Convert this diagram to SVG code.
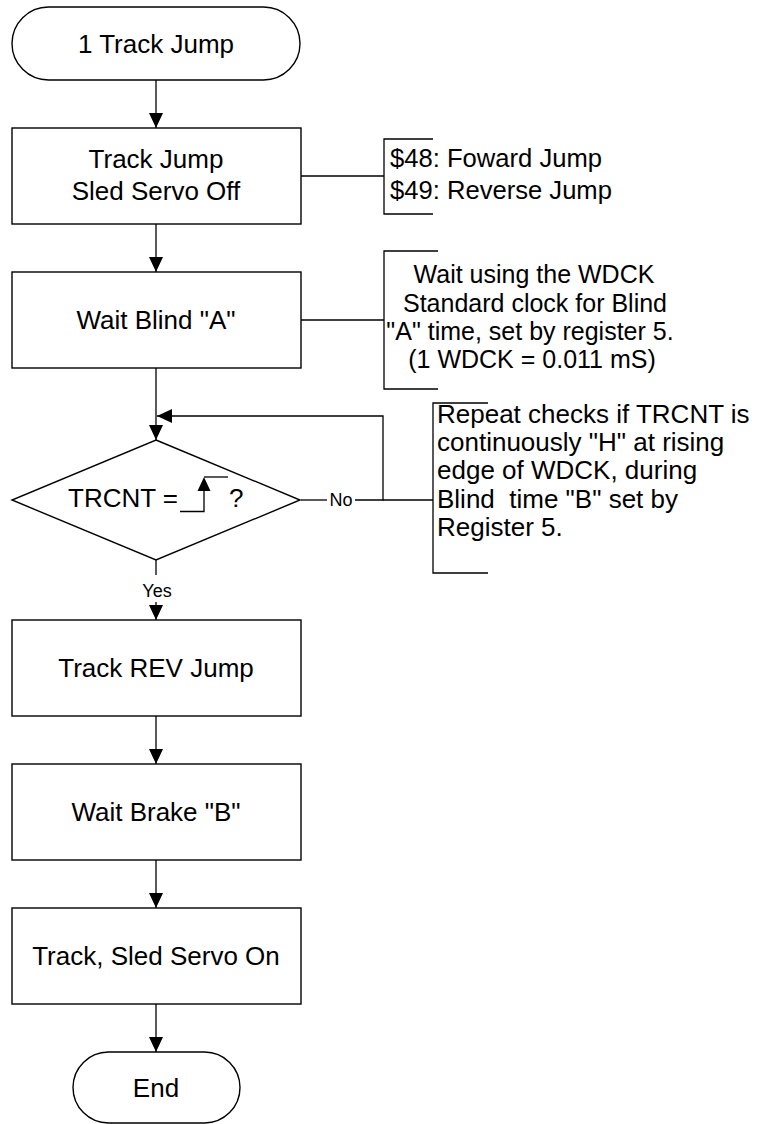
<svg xmlns="http://www.w3.org/2000/svg" width="760" height="1124" viewBox="0 0 760 1124">
<style>
.shape{fill:#fff;stroke:#000;stroke-width:1.4}
.ln{fill:none;stroke:#000;stroke-width:1.3}
.t{font-family:"Liberation Sans",Arial,sans-serif;font-size:26px;fill:#000;text-anchor:middle}
.tl{font-family:"Liberation Sans",Arial,sans-serif;font-size:26px;fill:#000;text-anchor:start}
.a{font-family:"Liberation Sans",Arial,sans-serif;font-size:25px;fill:#000}
.ac{font-family:"Liberation Sans",Arial,sans-serif;font-size:25px;fill:#000;text-anchor:middle}
.s{font-family:"Liberation Sans",Arial,sans-serif;font-size:18px;fill:#000;text-anchor:middle}
</style>
<defs>
<marker id="arr" markerUnits="userSpaceOnUse" markerWidth="16" markerHeight="16" refX="15" refY="7" orient="auto">
<path d="M0,0 L15,7 L0,14 z" fill="#000"/>
</marker>
</defs>
<rect width="760" height="1124" fill="#fff"/>
<g id="connectors">
<line class="ln" x1="156" y1="80" x2="156" y2="128" marker-end="url(#arr)"/>
<line class="ln" x1="156" y1="224" x2="156" y2="272" marker-end="url(#arr)"/>
<line class="ln" x1="156" y1="368" x2="156" y2="440" marker-end="url(#arr)"/>
<polyline class="ln" points="355,500 383,500 383,416 157,416" marker-end="url(#arr)"/>
<line class="ln" x1="301" y1="500" x2="327" y2="500"/>
<text class="s" x="341" y="506">No</text>
<line class="ln" x1="156" y1="560" x2="156" y2="575"/>
<text class="s" x="157" y="597">Yes</text>
<line class="ln" x1="156" y1="602" x2="156" y2="620" marker-end="url(#arr)"/>
<line class="ln" x1="156" y1="716" x2="156" y2="764" marker-end="url(#arr)"/>
<line class="ln" x1="156" y1="860" x2="156" y2="908" marker-end="url(#arr)"/>
<line class="ln" x1="156" y1="1004" x2="156" y2="1052" marker-end="url(#arr)"/>
<line class="ln" x1="301" y1="176" x2="384" y2="176"/>
<line class="ln" x1="301" y1="320" x2="384" y2="320"/>
<line class="ln" x1="383" y1="500" x2="433" y2="500"/>
</g>
<g id="start">
<rect class="shape" x="12" y="7" width="288" height="73" rx="36.5" ry="36.5"/>
<text class="t" x="156" y="53">1 Track Jump</text>
</g>
<g id="box1">
<rect class="shape" x="12" y="128" width="289" height="96"/>
<text class="t" x="156" y="168">Track Jump</text>
<text class="t" x="156" y="200">Sled Servo Off</text>
</g>
<g id="note1">
<path class="ln" d="M433,139 H384 V214 H433"/>
<text class="a" x="390" y="167" style="font-size:25.6px">$48: Foward Jump</text>
<text class="a" x="390" y="199" style="font-size:25.6px">$49: Reverse Jump</text>
</g>
<g id="box2">
<rect class="shape" x="12" y="272" width="289" height="96"/>
<text class="t" x="156" y="329">Wait Blind "A"</text>
</g>
<g id="note2">
<path class="ln" d="M438,251 H384 V389 H438"/>
<text class="ac" x="534" y="283">Wait using the WDCK</text>
<text class="ac" x="535" y="312">Standard clock for Blind</text>
<text class="ac" x="530" y="340">"A" time, set by register 5.</text>
<text class="ac" x="532" y="368">(1 WDCK = 0.011 mS)</text>
</g>
<g id="decision">
<polygon class="shape" points="156,440 300,500 156,560 12,500"/>
<text class="tl" x="68" y="507">TRCNT =</text>
<polyline class="ln" points="180,511.5 204,511.5 204,490"/>
<line class="ln" x1="204" y1="477" x2="228" y2="477"/>
<path d="M197.5,491 L204,477 L210.5,491 z" fill="#000"/>
<text class="tl" x="229" y="507">?</text>
</g>
<g id="note3">
<path class="ln" d="M488,403 H433 V573 H488"/>
<text class="a" x="437" y="423" style="font-size:26px">Repeat checks if TRCNT is</text>
<text class="a" x="437" y="451" style="font-size:26px">continuously "H" at rising</text>
<text class="a" x="437" y="479" style="font-size:26px">edge of WDCK, during</text>
<text class="a" x="437" y="508" style="font-size:26px" xml:space="preserve">Blind  time "B" set by</text>
<text class="a" x="437" y="536" style="font-size:26px">Register 5.</text>
</g>
<g id="box3">
<rect class="shape" x="12" y="620" width="289" height="96"/>
<text class="t" x="156" y="677">Track REV Jump</text>
</g>
<g id="box4">
<rect class="shape" x="12" y="764" width="289" height="96"/>
<text class="t" x="156" y="821">Wait Brake "B"</text>
</g>
<g id="box5">
<rect class="shape" x="12" y="908" width="289" height="96"/>
<text class="t" x="156" y="965">Track, Sled Servo On</text>
</g>
<g id="end">
<rect class="shape" x="73" y="1052" width="167" height="71" rx="35.5" ry="35.5"/>
<text class="t" x="156" y="1097">End</text>
</g>
</svg>
